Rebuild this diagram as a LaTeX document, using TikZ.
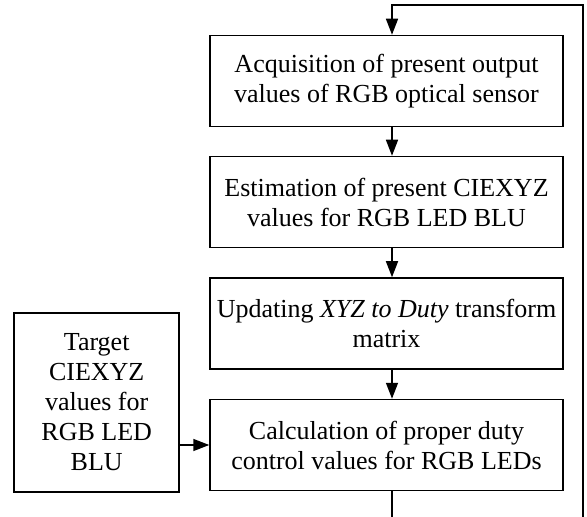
\documentclass[tikz,border=0pt]{standalone}
\usepackage{fontspec}
\setmainfont{Liberation Serif}
\usetikzlibrary{arrows.meta, positioning}

\tikzset{
  block/.style={draw, line width=0.75pt, align=center, inner sep=2pt,
    minimum width=176.5pt, minimum height=45.5pt,
    font=\fontsize{13}{15}\selectfont},
  flow/.style={line width=0.75pt, -{Triangle[length=8pt,width=6pt]}}
}

\begin{document}
\begin{tikzpicture}[x=0.5pt, y=-0.5pt]
  \useasboundingbox (0,0) rectangle (587,517);

  \node[block] (acq) at (386.5,81) {Acquisition of present output\\values of RGB optical sensor};
  \node[block] (est) at (386.5,202) {Estimation of present CIEXYZ\\values for RGB LED BLU};
  \node[block] (upd) at (386.5,323.5) {Updating \textit{XYZ to Duty} transform\\matrix};
  \node[block] (calc) at (386.5,445) {Calculation of proper duty\\control values for RGB LEDs};
  \node[block, minimum width=82.5pt, minimum height=89.5pt] (target) at (96.7,402.5)
    {Target\\CIEXYZ\\values for\\RGB LED\\BLU};

  \coordinate (tl) at (392,5);
  \coordinate (tr) at (583,5);
  \coordinate (bl) at (392,517);
  \coordinate (br) at (583,517);

  \draw[flow] (acq.south -| tl) -- (est.north -| tl);
  \draw[flow] (est.south -| tl) -- (upd.north -| tl);
  \draw[flow] (upd.south -| tl) -- (calc.north -| tl);
  \draw[flow] (target.east |- calc) -- (calc.west);
  \draw[line width=0.75pt] (calc.south -| bl) -- (bl);
  \draw[flow] (br) -- (tr) -- (tl) -- (acq.north -| tl);
\end{tikzpicture}
\end{document}
